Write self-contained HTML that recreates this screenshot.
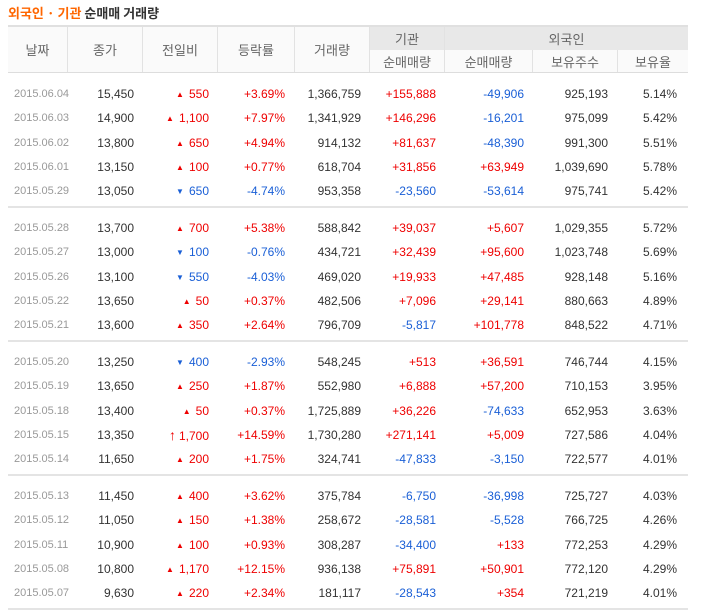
<!DOCTYPE html>
<html><head><meta charset="utf-8">
<style>
body{margin:0;width:706px;height:611px;background:#fff;font-family:"Liberation Sans","Noto Sans CJK KR",sans-serif;position:relative;overflow:hidden}
.abs{position:absolute}
.title{left:8px;top:3px;font-size:13px;font-weight:bold;color:#333;font-family:"Noto Sans CJK KR","Liberation Sans",sans-serif}
.title span{color:#f60}
.hd{position:absolute;box-sizing:border-box;display:flex;align-items:center;justify-content:center;font-size:13px;color:#666;font-family:"Noto Sans CJK KR",sans-serif;border-right:1px solid #e2e2e2}
.c{position:absolute;font-size:12px;color:#333;text-align:right;white-space:nowrap;line-height:14px}
.d{color:#999;font-size:11px;text-align:left}
.r{color:#e00}.b{color:#1a5fd6}
.ar{font-size:8px;margin-right:5px;vertical-align:1px}
.line{position:absolute;left:8px;width:680px;height:1px;background:#ddd}
</style></head><body>
<div class="abs title"><span>외국인 · 기관</span> 순매매 거래량</div>
<div class="abs" style="left:8px;top:25px;width:680px;height:2px;background:#e0e0e0"></div>
<div class="abs" style="left:8px;top:27px;width:680px;height:46px;background:#fafafa"></div>
<div class="abs" style="left:370px;top:27px;width:318px;height:23px;background:#e8e8e8"></div>
<div class="line" style="top:72px;height:1px;background:#ddd"></div>
<div id="hdr"></div>
<div id="rows"></div>
<script>
const dates=["2015.06.04","2015.06.03","2015.06.02","2015.06.01","2015.05.29","2015.05.28","2015.05.27","2015.05.26","2015.05.22","2015.05.21","2015.05.20","2015.05.19","2015.05.18","2015.05.15","2015.05.14","2015.05.13","2015.05.12","2015.05.11","2015.05.08","2015.05.07"];
const closes=["15,450","14,900","13,800","13,150","13,050","13,700","13,000","13,100","13,650","13,600","13,250","13,650","13,400","13,350","11,650","11,450","11,050","10,900","10,800","9,630"];
const changes=["550","1,100","650","100","650","700","100","550","50","350","400","250","50","1,700","200","400","150","100","1,170","220"];
const dirs=["u","u","u","u","d","u","d","d","u","u","d","u","u","U","u","u","u","u","u","u"];
const rates=["+3.69%","+7.97%","+4.94%","+0.77%","-4.74%","+5.38%","-0.76%","-4.03%","+0.37%","+2.64%","-2.93%","+1.87%","+0.37%","+14.59%","+1.75%","+3.62%","+1.38%","+0.93%","+12.15%","+2.34%"];
const volumes=["1,366,759","1,341,929","914,132","618,704","953,358","588,842","434,721","469,020","482,506","796,709","548,245","552,980","1,725,889","1,730,280","324,741","375,784","258,672","308,287","936,138","181,117"];
const instNet=["+155,888","+146,296","+81,637","+31,856","-23,560","+39,037","+32,439","+19,933","+7,096","-5,817","+513","+6,888","+36,226","+271,141","-47,833","-6,750","-28,581","-34,400","+75,891","-28,543"];
const forNet=["-49,906","-16,201","-48,390","+63,949","-53,614","+5,607","+95,600","+47,485","+29,141","+101,778","+36,591","+57,200","-74,633","+5,009","-3,150","-36,998","-5,528","+133","+50,901","+354"];
const holdings=["925,193","975,099","991,300","1,039,690","975,741","1,029,355","1,023,748","928,148","880,663","848,522","746,744","710,153","652,953","727,586","722,577","725,727","766,725","772,253","772,120","721,219"];
const ratios=["5.14%","5.42%","5.51%","5.78%","5.42%","5.72%","5.69%","5.16%","4.89%","4.71%","4.15%","3.95%","3.63%","4.04%","4.01%","4.03%","4.26%","4.29%","4.29%","4.01%"];

const hdr=document.getElementById('hdr');
function hd(t,x0,x1,y0,y1,name){const e=document.createElement('div');e.className='hd';


e.style.left=x0+'px';e.style.width=(x1-x0)+'px';e.style.top=y0+'px';e.style.height=(y1-y0)+'px';e.textContent=t;
hdr.appendChild(e);}
hd('날짜',8,68,27,72,'header-date');hd('종가',68,143,27,72,'header-close');hd('전일비',143,218,27,72,'header-change');
hd('등락률',218,295,27,72,'header-rate');hd('거래량',295,370,27,72,'header-volume');
hd('기관',370,445,27,50,'header-institution');hd('외국인',445,688,27,50,'header-foreigner');
hd('순매매량',370,445,50,72,'header-inst-net');hd('순매매량',445,533,50,72,'header-foreign-net');
hd('보유주수',533,618,50,72,'header-holdings');hd('보유율',618,688,50,72,'header-ratio');
hdr.lastChild.style.borderRight='none';
hdr.children[6].style.borderRight='none';
const rows=document.getElementById('rows');
function cls(v){return v[0]==='+'?'r':(v[0]==='-'?'b':'');}
function cell(html,x1,y,c,name){const e=document.createElement('div');e.className='c '+c;


e.style.right=(706-x1)+'px';e.style.top=(y-7)+'px';e.innerHTML=html;rows.appendChild(e);}
for(let i=0;i<dates.length;i++){
 const g=Math.floor(i/5),k=i%5;const base=73+g*134;const y=base+21+k*24.3;
 const d=document.createElement('div');d.className='c d';
 
 
 d.style.left='14px';d.style.top=(y-7)+'px';d.textContent=dates[i];rows.appendChild(d);
 cell(closes[i],134,y,'','close-cell');
 const dir=dirs[i];const arrow=dir==='d'?'▼':(dir==='U'?'<span style="font-size:14px;font-weight:bold;margin-right:3px">↑</span>':'▲');
 cell((dir==='U'?arrow:'<span class="ar">'+arrow+'</span>')+changes[i],209,y,dir==='d'?'b':'r','change-cell');
 cell(rates[i],285,y,cls(rates[i]),'rate-cell');
 cell(volumes[i],361,y,'','volume-cell');
 cell(instNet[i],436,y,cls(instNet[i]),'inst-net-cell');
 cell(forNet[i],524,y,cls(forNet[i]),'foreign-net-cell');
 cell(holdings[i],608,y,'','holdings-cell');
 cell(ratios[i],677,y,'','ratio-cell');
}
for(let g=1;g<=4;g++){const l=document.createElement('div');l.className='line';


l.style.top=(73+g*134-1)+'px';l.style.height='2px';l.style.background='#e4e4e4';rows.appendChild(l);}
</script>
</body></html>
